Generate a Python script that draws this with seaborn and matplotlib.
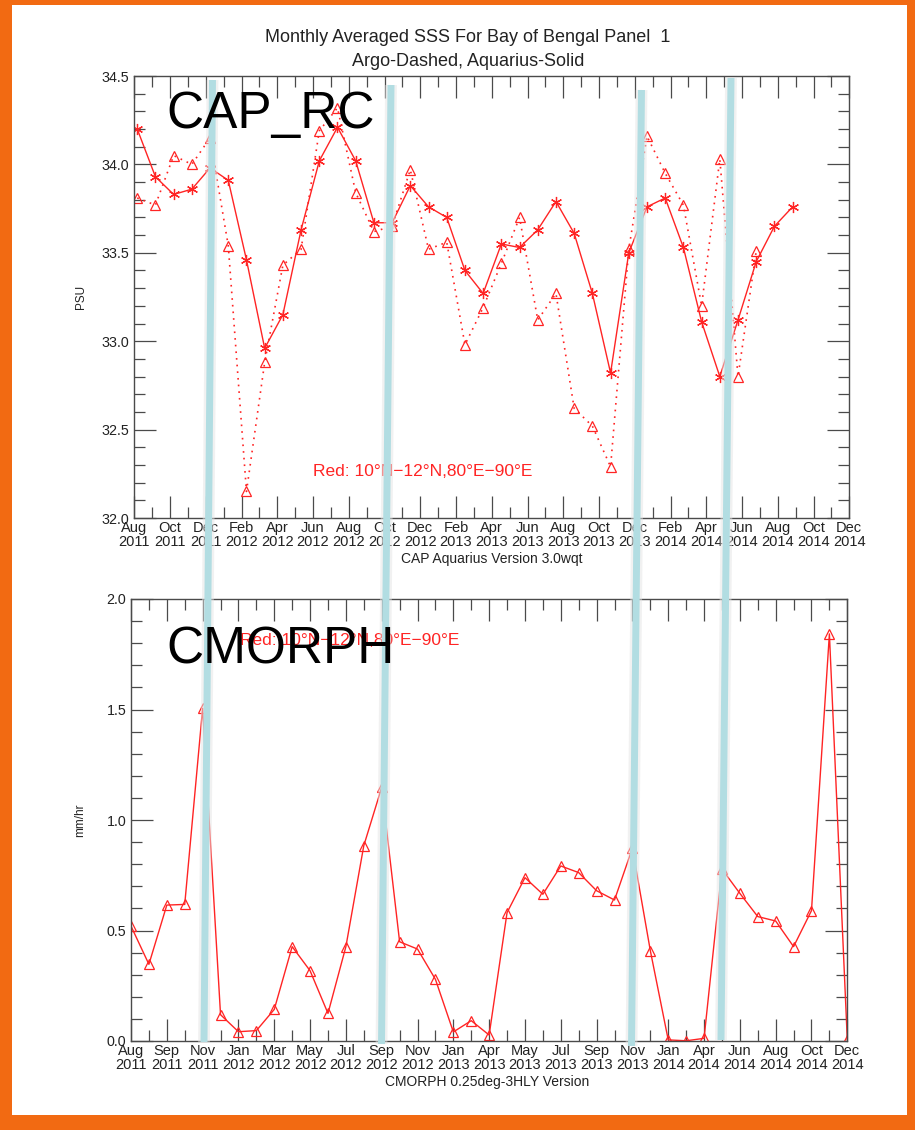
import numpy as np
import pandas as pd
import matplotlib
matplotlib.use("Agg")
import matplotlib.pyplot as plt
import seaborn as sns
from matplotlib.lines import Line2D
from matplotlib.patches import Rectangle
from matplotlib.ticker import MultipleLocator, FixedLocator, FormatStrFormatter

# ---------------- data ----------------
top_tick_labels = ["Aug\n2011", "Oct\n2011", "Dec\n2011", "Feb\n2012", "Apr\n2012", "Jun\n2012",
                   "Aug\n2012", "Oct\n2012", "Dec\n2012", "Feb\n2013", "Apr\n2013", "Jun\n2013",
                   "Aug\n2013", "Oct\n2013", "Dec\n2013", "Feb\n2014", "Apr\n2014", "Jun\n2014",
                   "Aug\n2014", "Oct\n2014", "Dec\n2014"]
bottom_tick_labels = ["Aug\n2011", "Sep\n2011", "Nov\n2011", "Jan\n2012", "Mar\n2012", "May\n2012",
                      "Jul\n2012", "Sep\n2012", "Nov\n2012", "Jan\n2013", "Apr\n2013", "May\n2013",
                      "Jul\n2013", "Sep\n2013", "Nov\n2013", "Jan\n2014", "Apr\n2014", "Jun\n2014",
                      "Aug\n2014", "Oct\n2014", "Dec\n2014"]

# Aquarius SSS (solid, asterisks), monthly from Aug 2011
aquarius_sss = [34.20, 33.93, 33.83, 33.86, 33.98, 33.91, 33.46, 32.96, 33.15, 33.63,
                34.02, 34.21, 34.02, 33.67, 33.67, 33.88, 33.76, 33.70, 33.40, 33.27,
                33.55, 33.53, 33.63, 33.79, 33.61, 33.27, 32.82, 33.50, 33.76, 33.81,
                33.53, 33.11, 32.80, 33.12, 33.45, 33.65, 33.76]
# Argo SSS (dotted, triangles)
argo_sss = [33.81, 33.77, 34.05, 34.00, 34.15, 33.54, 32.15, 32.88, 33.43, 33.52,
            34.19, 34.32, 33.84, 33.62, 33.65, 33.97, 33.52, 33.56, 32.98, 33.19,
            33.44, 33.70, 33.12, 33.27, 32.62, 32.52, 32.29, 33.52, 34.16, 33.95,
            33.77, 33.20, 34.03, 32.80, 33.51]
# CMORPH rain rate (mm/hr), monthly Aug 2011 - Dec 2014
cmorph_rain = [0.520, 0.347, 0.615, 0.618, 1.505, 0.119, 0.042, 0.047, 0.143, 0.427,
               0.318, 0.125, 0.427, 0.884, 1.148, 0.449, 0.416, 0.279, 0.041, 0.092,
               0.027, 0.581, 0.739, 0.664, 0.792, 0.762, 0.680, 0.638, 0.873, 0.409,
               0.005, 0.001, 0.012, 0.778, 0.668, 0.563, 0.543, 0.427, 0.590, 1.842,
               0.005]

# ---------------- style ----------------
sns.set_theme(style="white")
plt.rcParams["font.family"] = ["Liberation Sans", "DejaVu Sans"]

W, H = 915, 1130
RED = "#ff2424"
AXC = "#4a4a4a"
TXT = "#222222"
ORANGE = "#f26a12"
BAR = "#b2dde2"

fig = plt.figure(figsize=(W / 100, H / 100), dpi=100)
fig.patch.set_facecolor(ORANGE)
fig.add_artist(Rectangle((12 / W, 1 - 1115 / H), (907 - 12) / W, (1115 - 5) / H,
                         transform=fig.transFigure, facecolor="white", edgecolor="none", zorder=-5))


def px_axes(left, top, right, bottom):
    return fig.add_axes([left / W, 1 - bottom / H, (right - left) / W, (bottom - top) / H])


ax1 = px_axes(134.3, 76, 849.3, 518)
ax2 = px_axes(131.0, 599, 847.3, 1041)

# x positions: top series sampled every 31 days from 6 Aug 2011, axis in months from 1 Aug 2011
t0 = pd.Timestamp("2011-08-01")
aq_dates = pd.Timestamp("2011-08-06") + pd.to_timedelta(31 * np.arange(len(aquarius_sss)), unit="D")
ar_dates = pd.Timestamp("2011-08-06") + pd.to_timedelta(31 * np.arange(len(argo_sss)), unit="D")
x_aq = np.asarray((aq_dates - t0).days, dtype=float) / 30.4375
x_ar = np.asarray((ar_dates - t0).days, dtype=float) / 30.4375
x_cm = np.arange(len(cmorph_rain), dtype=float)

asterisk = (6, 2, 0)
sns.lineplot(x=x_aq, y=aquarius_sss, ax=ax1, color=RED, lw=1.0, marker=asterisk, ms=8,
             mec=RED, mew=0.9, sort=False, estimator=None)
sns.lineplot(x=x_ar, y=argo_sss, ax=ax1, color=RED, lw=1.2, linestyle=(0, (1, 3)), marker="^",
             ms=7, mfc="none", mec=RED, mew=0.9, sort=False, estimator=None)
sns.lineplot(x=x_cm, y=cmorph_rain, ax=ax2, color=RED, lw=1.0, marker="^",
             ms=7, mfc="none", mec=RED, mew=0.9, sort=False, estimator=None)


def style_axes(ax, ylim, labels, xlabel, ylabel, xlab_pos, ylab_x):
    ax.set_facecolor("white")
    ax.set_xlim(0, 40)
    ax.set_ylim(*ylim)
    ax.xaxis.set_major_locator(FixedLocator(np.arange(0, 41, 2)))
    ax.xaxis.set_minor_locator(MultipleLocator(1))
    ax.set_xticklabels(labels)
    ax.yaxis.set_major_locator(MultipleLocator(0.5))
    ax.yaxis.set_minor_locator(MultipleLocator(0.1))
    ax.yaxis.set_major_formatter(FormatStrFormatter("%.1f"))
    ax.tick_params(which="both", direction="in", top=True, bottom=True, left=True, right=True,
                   color=AXC, width=0.9, labelcolor=TXT)
    ax.tick_params(which="major", length=15.8)
    ax.tick_params(which="minor", length=7.9)
    ax.tick_params(axis="x", pad=2.5, labelsize=10.5)
    ax.tick_params(axis="y", pad=3.5, labelsize=10.3)
    for lbl in ax.get_xticklabels():
        lbl.set_linespacing(0.92)
    for s in ax.spines.values():
        s.set_visible(True)
        s.set_color(AXC)
        s.set_linewidth(1.0)
    ax.set_xlabel(xlabel, fontsize=10, color=TXT)
    ax.xaxis.set_label_coords(*xlab_pos)
    ax.set_ylabel(ylabel, fontsize=8.5, color=TXT)
    ax.yaxis.set_label_coords(ylab_x, 0.5)
    ax.grid(False)


style_axes(ax1, (32.0, 34.5), top_tick_labels, "CAP Aquarius Version 3.0wqt", "PSU", (0.5, -0.078), -0.066)
style_axes(ax2, (0.0, 2.0), bottom_tick_labels, "CMORPH 0.25deg-3HLY Version", "mm/hr", (0.497, -0.076), -0.062)

region = "Red: 10\u00b0N\u221212\u00b0N,80\u00b0E\u221290\u00b0E"
ax1.text(0.25, 0.095, region, transform=ax1.transAxes, color=RED, fontsize=12.5, va="baseline")
ax2.text(0.152, 0.895, region, transform=ax2.transAxes, color=RED, fontsize=12.5, va="baseline")

# titles
fig.text(468 / W, 1 - 38 / H, "Monthly Averaged SSS For Bay of Bengal Panel  1", ha="center", va="center",
         fontsize=13, color=TXT)
fig.text(468 / W, 1 - 62 / H, "Argo-Dashed, Aquarius-Solid", ha="center", va="center",
         fontsize=13, color=TXT)

# highlight bars (slanted light-blue markers across both panels)
bars = [((212.5, 80), (204.0, 1042)), ((391.0, 85), (381.5, 1044)),
        ((641.5, 90), (631.5, 1046)), ((731.0, 78), (721.0, 1040))]
for (xa, ya), (xb, yb) in bars:
    fig.add_artist(Line2D([xa / W, xb / W], [1 - ya / H, 1 - yb / H], transform=fig.transFigure,
                          color="#e4e4e4", lw=8.5, alpha=0.5, solid_capstyle="butt", zorder=5))
    fig.add_artist(Line2D([xa / W, xb / W], [1 - ya / H, 1 - yb / H], transform=fig.transFigure,
                          color=BAR, lw=5.0, solid_capstyle="butt", zorder=6))

# big labels
fig.text(166.7 / W, 1 - 128.3 / H, "CAP_RC", fontsize=37, color="black", va="baseline", zorder=10)
fig.text(166.7 / W, 1 - 663.3 / H, "CMORPH", fontsize=37, color="black", va="baseline", zorder=10)

fig.savefig("out.png", dpi=100, facecolor=fig.get_facecolor())
